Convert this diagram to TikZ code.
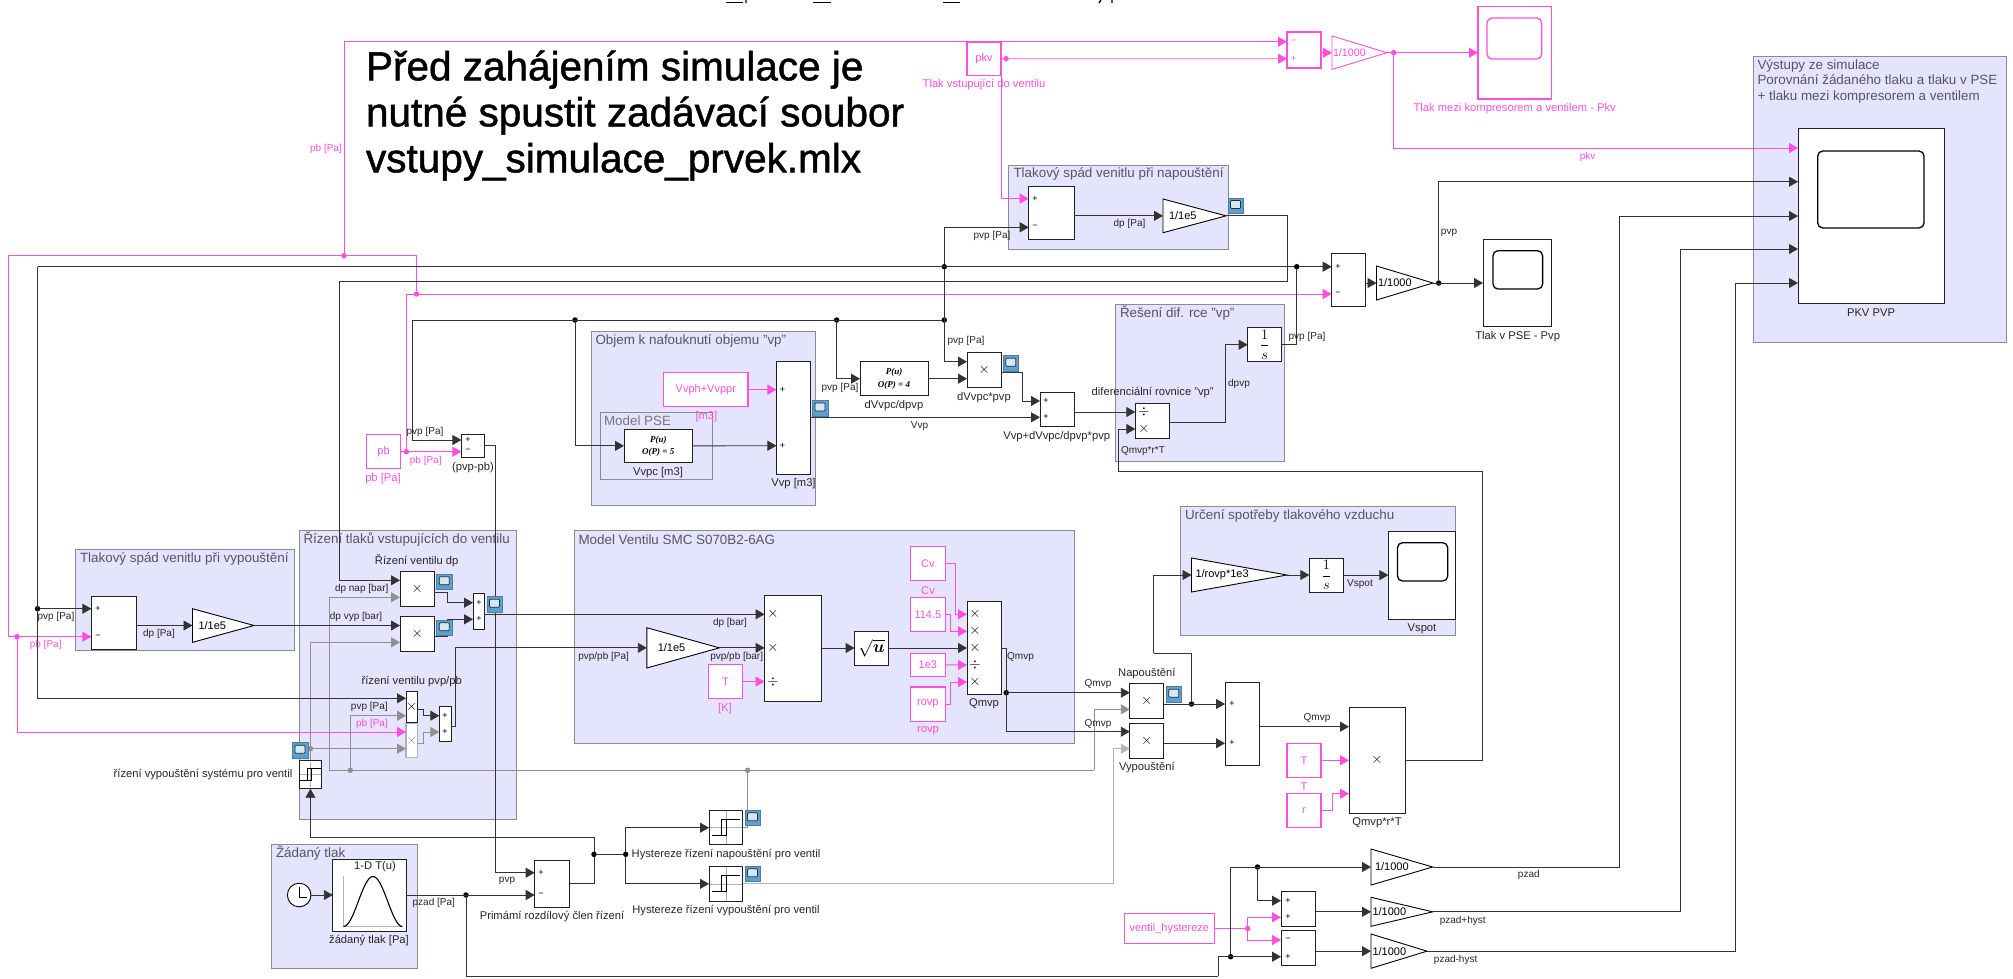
\documentclass[tikz,border=0pt]{standalone}
\usepackage{amsmath}
\usepackage{fontspec}
\setmainfont{Liberation Sans}
\newfontfamily\polyfont{Liberation Serif}
\newfontfamily\notefont[FakeBold=1.2]{Liberation Sans}
\usetikzlibrary{arrows.meta,fit}
\definecolor{pinkC}{HTML}{FF4FDC}
\definecolor{sigC}{HTML}{333333}
\definecolor{blkC}{HTML}{202020}
\definecolor{shadeC}{HTML}{909090}
\definecolor{shadeL}{HTML}{B4B4B4}
\definecolor{subF}{HTML}{E4E4FC}
\definecolor{subD}{HTML}{8A8A92}
\definecolor{ttlC}{HTML}{555562}
\definecolor{iconB}{HTML}{5E9FCB}
\newcommand{\blktext}[1]{\raisebox{\dimexpr.5\depth-.5\height\relax}[0pt][0pt]{#1}}
\newcommand{\polytext}[1]{\blktext{\polyfont\itshape\bfseries\fontsize{9}{12.5}\selectfont\begin{tabular}{@{}c@{}}P(u)\\O(P) = #1\end{tabular}}}

\begin{document}
\begin{tikzpicture}[x=1pt,y=-1pt,>={Triangle[length=9pt,width=10pt]},
   every node/.style={inner sep=0pt,outer sep=0pt,font=\fontsize{10}{12}\selectfont},
   blk/.style={draw=blkC,fill=white,line width=1pt,font=\fontsize{11}{13}\selectfont},
   pblk/.style={draw=pinkC,fill=white,line width=1.1pt,text=pinkC,font=\fontsize{11}{13}\selectfont},
   shblk/.style={draw=shadeC!70,fill=white!92!subF,line width=1.1pt,text=shadeC},
   subsys/.style={draw=subD,fill=subF,line width=1pt},
   screen/.style={draw=black,fill=white,line width=1.3pt,rounded corners=5pt},
   gain/.style={append after command={\pgfextra{\draw[fill=white,line width=.9pt,draw=#1]
      (\tikzlastnode.north west) -- (\tikzlastnode.east) -- (\tikzlastnode.south west) -- cycle;}}},
   gtext/.style={anchor=west,font=\fontsize{11}{13}\selectfont},
   lbl/.style={text=black!85},
   nlbl/.style={text=black!85,font=\fontsize{11.2}{13}\selectfont},
   plbl/.style={text=pinkC},
   pnlbl/.style={text=pinkC,font=\fontsize{11.2}{13}\selectfont},
   ttl/.style={anchor=west,text=ttlC,font=\fontsize{13.4}{16}\selectfont},
   sgn/.style={font=\fontsize{9}{10}\selectfont},
   mlt/.style={font=\fontsize{14.5}{15}\selectfont},
   intfrac/.style={font=\fontsize{15}{17}\selectfont},
   sig/.style={draw=sigC,line width=.9pt},
   pks/.style={draw=pinkC,line width=.9pt},
   shd/.style={draw=shadeC,line width=.9pt},
   dot/.style={circle,minimum size=5.5pt,fill=#1},
   viewer/.style={minimum width=15.5pt,minimum height=15.5pt,draw=iconB!80!black,line width=.5pt,fill=iconB,
      path picture={\draw[draw=black!70!iconB,fill=iconB!25,line width=.7pt,rounded corners=1pt]
        ([shift={(-5,-5)}]path picture bounding box.center) rectangle ([shift={(5,3)}]path picture bounding box.center);}},
   relay/.style={path picture={\path (path picture bounding box.center) coordinate (rc);
      \draw[gray!60,line width=.5pt] (rc) ++(-17*#1,0) -- ++(34*#1,0) (rc) ++(0,-17*#1) -- ++(0,34*#1);
      \draw[black,line width=.9pt] (rc) ++(-14*#1,8*#1) -- ++(10*#1,0) -- ++(0,-16*#1) -- ++(18*#1,0) (rc) ++(#1,-8*#1) -- ++(0,16*#1) -- ++(-5*#1,0);}}]
  \useasboundingbox (0,0) rectangle (2013,978);

  % clipped file name at the top edge
  \foreach \ua/\ub in {726/743,813/831,943/960} \draw[line width=1.6pt] (\ua,2.5) -- (\ub,2.5);
  \draw[line width=1.3pt] (746,0) -- (746,3) (1101,0) -- (1099,3) (1112,0) -- (1112,3);

  % subsystems
  \node[subsys,fit={(1008.5,165)(1228,249.5)}] (sbNap) {};
  \node[subsys,fit={(75.5,549)(294.5,650.5)}] (sbVyp) {};
  \node[subsys,fit={(299,530)(516.5,819.5)}] (sbRiz) {};
  \node[subsys,fit={(591.5,331.5)(815.5,505.5)}] (sbObj) {};
  \node[subsys,fit={(600,412.5)(712.5,479.5)}] (sbPse) {};
  \node[subsys,fit={(574,530)(1074,743.5)}] (sbVen) {};
  \node[subsys,fit={(1115.5,304.5)(1284,461.5)}] (sbRes) {};
  \node[subsys,fit={(1180.5,506.5)(1455.5,635.5)}] (sbUrc) {};
  \node[subsys,fit={(271.5,844.5)(417,968)}] (sbZad) {};
  \node[subsys,fit={(1753,56)(2006,342)}] (sbVys) {};
  \node[ttl] (tNap) at (1013.5,174) {Tlakový spád venitlu při napouštění};
  \node[ttl] (tVyp) at (80,558.5) {Tlakový spád venitlu při vypouštění};
  \node[ttl] (tRiz) at (303.5,539) {Řízení tlaků vstupujících do ventilu};
  \node[ttl] (tObj) at (595.5,341) {Objem k nafouknutí objemu "vp"};
  \node[ttl,text=ttlC!80] (tPse) at (604,421) {Model PSE};
  \node[ttl] (tVen) at (578.5,539.5) {Model Ventilu SMC S070B2-6AG};
  \node[ttl] (tRes) at (1120,313.5) {Řešení dif. rce "vp"};
  \node[ttl] (tUrc) at (1185,515.5) {Určení spotřeby tlakového vzduchu};
  \node[ttl] (tZad) at (276,853.5) {Žádaný tlak};
  \node[ttl,align=left,font=\fontsize{13.4}{15.5}\selectfont] (tVys) at (1757.5,81) {Výstupy ze simulace\\Porovnání žádaného tlaku a tlaku v PSE\\+ tlaku mezi kompresorem a ventilem};
  \node[anchor=north west,align=left,font=\notefont\fontsize{40.5}{46}\selectfont,text=black] (note) at (366,50.5)
    {Před zahájením simulace je\\nutné spustit zadávací soubor\\vstupy\_simulace\_prvek.mlx};

  % blocks, top row
  \node[pblk,fit={(967,42)(1001,75.5)}] (pkv) {\blktext{pkv}};
  \node[pblk,fit={(1287,32)(1321,68)}] (sumK) {};
  \node[gain=pinkC,fit={(1332,36)(1387,69.4)}] (gK) {};
  \node[gtext,text=pinkC,font=\fontsize{10.7}{12}\selectfont] (gKt) at ([xshift=1pt]gK.west) {1/1000};
  \node[pblk,fit={(1478,6.7)(1551.6,99)}] (scK) {};
  \node[screen,draw=pinkC,fit={(1487,18)(1541.7,59)}] (scKs) {};
  \node[blk,fit={(1028.7,186)(1074,239.3)}] (sNap) {};
  \node[gain=black,fit={(1163,199)(1226,232.7)}] (gNap) {};
  \node[gtext] (gNapt) at ([xshift=6pt]gNap.west) {1/1e5};
  \node[blk,fit={(1331.7,253)(1365.7,306.7)}] (sumO) {};
  \node[gain=black,fit={(1376.5,266)(1433,300)}] (gO) {};
  \node[gtext] (gOt) at ([xshift=1.5pt]gO.west) {1/1000};
  \node[blk,fit={(1483,239)(1551.6,326.7)}] (scT) {};
  \node[screen,fit={(1493,250.7)(1542.6,289)}] (scTs) {};
  \node[blk,fit={(1798,128)(1944,303)}] (scV) {};
  \node[screen,fit={(1817.7,151)(1924,228)}] (scVs) {};

  % objem
  \node[pblk,fit={(366.4,434.7)(400.6,468.7)}] (pb) {\blktext{pb}};
  \node[blk,fit={(461.4,434.7)(484.6,457.3)}] (sPb) {};
  \node[pblk,fit={(663.6,372.7)(748,406.7)}] (vvph) {\blktext{Vvph+Vvppr}};
  \node[blk,fit={(624,429)(692.5,462.7)}] (vvpc) {\polytext{5}};
  \node[blk,fit={(776.4,361.7)(810,474)}] (vvp) {};
  \node[blk,fit={(860,361.7)(928,395.7)}] (poly4) {\polytext{4}};
  \node[blk,fit={(967,352.7)(1001.4,387.7)},mlt] (mv) {\blktext{$\times$}};
  \node[blk,fit={(1040,392)(1074,426.7)}] (sV) {};
  \node[blk,fit={(1135.3,403.3)(1169.3,438)}] (md) {};
  \node[blk,fit={(1247.7,327.7)(1281.7,361.7)},intfrac] (intg) {\blktext{$\dfrac{1}{s}$}};

  % rizeni
  \node[blk,fit={(91.4,596.3)(136.4,649)}] (sVyp) {};
  \node[gain=black,fit={(192.5,608.7)(254,642.3)}] (gVyp) {};
  \node[gtext] (gVypt) at ([xshift=6pt]gVyp.west) {1/1e5};
  \node[blk,fit={(400,571.7)(434.3,606.3)},mlt] (m1) {\blktext{$\times$}};
  \node[blk,fit={(400,616.7)(434.3,651.7)},mlt] (m2) {\blktext{$\times$}};
  \node[blk,fit={(473,593.7)(484.7,629)}] (s1) {};
  \node[blk,fit={(406,691.7)(417.3,722.3)},mlt] (m3) {\blktext{$\times$}};
  \node[shblk,fit={(406,723.3)(417.3,757.7)},mlt] (m4) {\blktext{$\times$}};
  \node[blk,fit={(439.3,706)(451,741.3)}] (s2) {};
  \node[blk,relay=.72,fit={(299.2,760)(321.7,788.7)}] (hC) {};

  % model ventilu
  \node[gain=black,fit={(646.8,627.7)(719.3,668)}] (gVen) {};
  \node[gtext] (gVent) at ([xshift=11pt]gVen.west) {1/1e5};
  \node[pblk,fit={(708.6,664.3)(742.4,698.7)}] (cT) {\blktext{T}};
  \node[blk,fit={(764.6,595)(821.8,701)}] (bm) {};
  \node[blk,fit={(854.6,631)(888.4,665)},font=\fontsize{17}{18}\selectfont] (sqr) {\blktext{$\sqrt{\boldsymbol{u}}$}};
  \node[pblk,fit={(910.6,546.7)(945.2,580.7)}] (cCv) {\blktext{Cv}};
  \node[pblk,fit={(910.6,597.3)(945.2,631.3)}] (c114) {\blktext{114.5}};
  \node[pblk,fit={(910.6,653.3)(945.2,676.3)}] (c1e3) {\blktext{1e3}};
  \node[pblk,fit={(910.6,687)(945.2,721.3)}] (cRovp) {\blktext{rovp}};
  \node[blk,fit={(967,601.7)(1001.4,694.3)}] (mQ) {};

  % spotreba a vystupy
  \node[blk,fit={(1129.8,683.7)(1163.8,718.7)},mlt] (mNa) {\blktext{$\times$}};
  \node[blk,fit={(1129.8,723.3)(1163.8,758)},mlt] (mVy) {\blktext{$\times$}};
  \node[blk,fit={(1225,682.7)(1259,765)}] (sQ) {};
  \node[blk,fit={(1349,707.7)(1405,813)},mlt] (qb) {\blktext{$\times$}};
  \node[pblk,fit={(1287,743.3)(1321,777.3)}] (cTq) {\blktext{T}};
  \node[pblk,fit={(1287,793.7)(1321,827.7)}] (cR) {\blktext{r}};
  \node[gain=black,fit={(1191.5,558)(1287,592)}] (gUr) {};
  \node[gtext] (gUrt) at ([xshift=4pt]gUr.west) {1/rovp*1e3};
  \node[blk,fit={(1309.3,558)(1343.7,592.3)},intfrac] (iUr) {\blktext{$\dfrac{1}{s}$}};
  \node[blk,fit={(1388.4,531)(1455.6,619)}] (scS) {};
  \node[screen,fit={(1397.5,542.7)(1447.7,581)}] (scSs) {};
  \node[gain=black,fit={(1371,849)(1432.7,885)}] (gP) {};
  \node[gtext] (gPt) at ([xshift=4pt]gP.west) {1/1000};
  \node[gain=black,fit={(1371,897.3)(1432.7,926.3)}] (gH) {};
  \node[gtext] (gHt) at ([xshift=1.5pt]gH.west) {1/1000};
  \node[gain=black,fit={(1371,934)(1427,968.3)}] (gM) {};
  \node[gtext] (gMt) at ([xshift=1.5pt]gM.west) {1/1000};
  \node[blk,fit={(1281,891.7)(1315.3,926.3)}] (sHp) {};
  \node[blk,fit={(1281,930.7)(1315.3,965.7)}] (sHm) {};
  \node[pblk,fit={(1124.3,913.7)(1214.4,943.3)}] (hys) {\blktext{ventil\_hystereze}};

  % rizeni bottom
  \node[blk,fit={(534.7,860)(569,907.3)}] (sPr) {};
  \node[blk,relay=1,fit={(709,810.7)(742.8,844.7)}] (h1) {};
  \node[blk,relay=1,fit={(709,866.7)(742.8,901)}] (h2) {};
  \node[draw=black,fill=white,circle,line width=.9pt,minimum size=23.6pt,
    path picture={\draw[line width=.8pt] ([shift={(0,-8)}]path picture bounding box.center) -- ([shift={(0,2)}]path picture bounding box.center) -- ([shift={(8,2)}]path picture bounding box.center);}] (clk) at (299.2,895) {};
  \node[blk,fit={(332.8,859)(406,931)}] (lut) {};
  \draw[gray!60,line width=.8pt] (343.5,876) -- (343.5,926.7) -- (402.4,926.7);
  \draw[black,line width=1.1pt] plot[domain=0:1,samples=40] ({343.5+59*\x},{926.5-50*(1-cos(360*\x))/2});

  % junctions
  \foreach \nm/\px/\py/\cc in {jPbT/344/255.7/pinkC,jPbB/416.5/294/pinkC,jPb/406.4/451.7/pinkC,jPbV/17/636.7/pinkC,
      jPkv/1006/58.7/pinkC,jKo/1393.6/52.7/pinkC,jHys/1247.6/928.5/pinkC,
      jOut/1296.7/266.7/black,jNap/944.3/266.7/black,jVv/944.3/320/black,jA/575/320/black,jB/836.7/320/black,
      jDv/37.5/608.7/black,jQ/1006.3/692.7/black,jNa/1191.5/704/black,jPr/594/854.3/black,jPr2/625.7/854.3/black,
      jZ/466/895/black,jG/1230.6/956.7/black,jG2/1257.5/867/black,jO/1438.7/283/black,
      jS/747.6/770.3/shadeC,jS2/350.3/770.3/shadeC,jH/310.4/748.7/shadeC}
    \node[dot=\cc] (\nm) at (\px,\py) {};

  % ports and bends
  \foreach \nm/\px/\py in {pSkM/1287/41.7,pSkP/1287/58.7,pNapP/1028.7/198.6,pNapM/1028.7/227.3,pVyK/1798/148,pVy2/1798/181.7,
      pVy3/1798/216,pVy4/1798/249,pVy5/1798/283,pOp/1331.7/266.7,pOm/1331.7/294,bPbW/8/255.7,pVm/91.4/636.7,pVp/91.4/608.7,
      pM1a/400/580.3,pM1b/400/597.3,pM2a/400/625.5,pM2b/400/642.3,pM3a/406/698.3,pM3b/406/715.7,pM4a/406/732,pM4b/406/748.7,
      oM1/434.3/592,oM2/434.3/636.7,oM3/417.3/709,oM4/417.3/743,pS1a/473/602.7,pS1b/473/619.3,pS2a/439.3/715.7,pS2b/439.3/732,
      oS2/451/726.7,pBmA/764.6/614.3,pBmC/764.6/681.5,oS1/484.7/614.3,pPbP/461.4/440,pPbM/461.4/451.7,bVvW/412/320,oPb/484.6/445.3,
      pPrA/534.7/872.7,pPrB/534.7/895,oPr/569/883.7,pVv1/776.4/389.7,pVv2/776.4/445.7,oVv/810/417.3,pSvA/1040/401,pSvB/1040/417.3,
      pMvA/967/361.7,pMvB/967/378.7,oMv/1001.4/372.3,pMdA/1135.3/412,pMdB/1135.3/429,oMd/1169.3/422.7,
      pQ1/967/614.3,pQ2/967/631.3,pQ3/967/648,pQ4/967/665,pQ5/967/682,oQ/1001.4/648,
      pNaA/1129.8/692.7,pNaB/1129.8/709.3,pVyA/1129.8/731.7,pVyB/1129.8/748.7,pSqA/1225/704,pSqB/1225/743.3,oQs/1259/726.7,
      pQbA/1349/726.7,pQbC/1349/793.7,bUr/1153.5/653.3,bFbA/1482.5/471.7,bFbB/1118.3/471.7,bRetA/1287/281.7,bRetB/339/281.7,
      bZ/1218.4/976,pHpA/1281/900.7,pHpB/1281/917.3,pHmA/1281/940,pHmB/1281/956.7,bGa/329.3/770.3,bGb/1094/770.3}
    \coordinate (\nm) at (\px,\py);

  % pink wires
  \draw[pks,->] (jPbT) |- (pSkM);
  \draw[pks,->] (pkv.east) -- (pSkP);
  \draw[pks,->] (pkv.east) -- ++(0,0) |- (pNapP);
  \draw[pks,->] (gK.west -| sumK.east) -- (gK.west);
  \draw[pks,->] (gK.east) -- (gK.east -| scK.west);
  \draw[pks,->] (jKo) |- (pVyK);
  \draw[pks,->] (pb.east) -- (pPbM);
  \draw[pks,->] (jPb) |- (pOm);
  \draw[pks] (jPbB) |- (bPbW);
  \draw[pks,->] (bPbW) |- (pVm);
  \draw[pks,->] (jPbV) |- (pM4a);
  \draw[pks,->] (vvph.east) -- (pVv1);
  \draw[pks,->] (cT.east) -- (pBmC);
  \draw[pks,->] (cCv.east) -- ++(10.4,0) |- (pQ1);
  \draw[pks,->] (c114.east) -- ++(5,0) |- (pQ2);
  \draw[pks,->] (c1e3.east) -- (pQ4);
  \draw[pks,->] (cRovp.east) -- ++(5,0) |- (pQ5);
  \draw[pks,->] (cTq.east) -- (cTq.east -| qb.west);
  \draw[pks,->] (cR.east) -- ++(11,0) |- (pQbC);
  \draw[pks] (hys.east) -- (jHys);
  \draw[pks,->] (jHys) |- (pHpB);
  \draw[pks,->] (jHys) |- (pHmA);

  % shaded wires
  \draw[shd] (h1.east) -| (jS);
  \draw[shd] (bGb) -- (bGa);
  \draw[shd,->] (bGa) |- (pM1b);
  \draw[shd,->] (bGb) |- (pNaB);
  \draw[shd,->] (jS2) |- (pM3b);
  \draw[shd,draw=shadeL,->] (h2.east) -- ++(370.2,0) |- (pVyB);
  \draw[shd,->] (hC.north) |- (pM2b);
  \draw[shd,->] (jH) -- (pM4b);
  \draw[shd,->] (oM4) -- ++(6,0) |- (pS2b);

  % signal wires
  \draw[sig,->] (jOut) -- (pOp);
  \draw[sig] (intg.east) -| (jOut);
  \draw[sig] (jOut) -- (jOut -| jDv);
  \draw[sig,->] (jOut -| jDv) |- (pM3a);
  \draw[sig,->] (jDv) -- (pVp);
  \draw[sig,->] (jNap) |- (pNapM);
  \draw[sig,->] (jNap) |- (pMvA);
  \draw[sig] (jVv) -- (bVvW);
  \draw[sig,->] (bVvW) |- (pPbP);
  \draw[sig,->] (jA) |- (vvpc.west);
  \draw[sig,->] (jB) |- (poly4.west);
  \draw[sig,->] (gNap.west -| sNap.east) -- (gNap.west);
  \draw[sig] (gNap.east) -| (bRetA) -- (bRetB);
  \draw[sig,->] (bRetB) |- (pM1a);
  \draw[sig,->] (gVyp.west -| sVyp.east) -- (gVyp.west);
  \draw[sig,->] (gVyp.east) -- (pM2a);
  \draw[sig,->] (oM1) -- ++(13,0) |- (pS1a);
  \draw[sig,->] (oM2) -- ++(13,0) |- (pS1b);
  \draw[sig,->] (oS1) -- (pBmA);
  \draw[sig,->] (oM3) -- ++(6,0) |- (pS2a);
  \draw[sig,->] (oS2) -- ++(4.7,0) |- (gVen.west);
  \draw[sig,->] (gVen.east) -- (gVen.east -| bm.west);
  \draw[sig,->] (bm.east) -- (sqr.west);
  \draw[sig,->] (sqr.east) -- (pQ3);
  \draw[sig,->] (oQ) -- ++(4.9,0) |- (pVyA);
  \draw[sig,->] (jQ) -- (pNaA);
  \draw[sig,->] (mNa.east |- pSqA) -- (pSqA);
  \draw[sig] (jNa) |- (bUr);
  \draw[sig,->] (bUr) |- (gUr.west);
  \draw[sig,->] (mVy.east |- pSqB) -- (pSqB);
  \draw[sig,->] (oQs) -- (pQbA);
  \draw[sig] (qb.east) -| (bFbA) -- (bFbB);
  \draw[sig,->] (bFbB) |- (pMdB);
  \draw[sig,->] (gUr.east) -- (gUr.east -| iUr.west);
  \draw[sig,->] (iUr.east) -- (iUr.east -| scS.west);
  \draw[sig,->] (vvpc.east) -- (pVv2);
  \draw[sig,->] (poly4.east) -- (pMvB);
  \draw[sig,->] (oMv) -- ++(21.4,0) |- (pSvA);
  \draw[sig,->] (oVv) -- (pSvB);
  \draw[sig,->] (sV.east |- pMdA) -- (pMdA);
  \draw[sig,->] (oMd) -- ++(55.7,0) |- (intg.west);
  \draw[sig,->] (oPb) -- ++(10.7,0) |- (pPrA);
  \draw[sig] (oPr) -| (jPr);
  \draw[sig,->] (jPr) -- ++(0,-16.6) -| (hC.south);
  \draw[sig] (jPr) -- (jPr2);
  \draw[sig,->] (jPr2) |- (h1.west);
  \draw[sig,->] (jPr2) |- (h2.west);
  \draw[sig,->] (clk.east) -- (lut.west);
  \draw[sig,->] (lut.east) -- (pPrB);
  \draw[sig] (jZ) |- (bZ);
  \draw[sig,->] (bZ) |- (pHmB);
  \draw[sig,->] (jG) |- (gP.west);
  \draw[sig,->] (jG2) |- (pHpA);
  \draw[sig,->] (gH.west -| sHp.east) -- (gH.west);
  \draw[sig,->] (gM.west -| sHm.east) -- (gM.west);
  \draw[sig,->] (gP.east) -- ++(186.5,0) |- (pVy3);
  \draw[sig,->] (gH.east) -- ++(248,0) |- (pVy4);
  \draw[sig,->] (gM.east) -- ++(308,0) |- (pVy5);
  \draw[sig,->] (gO.west -| sumO.east) -- (gO.west);
  \draw[sig,->] (gO.east) -- (gO.east -| scT.west);
  \draw[sig,->] (jO) |- (pVy2);

  % port signs
  \foreach \sx/\sy/\ss [count=\i] in {1035/198.6/+,1035/227.3/−,98/608.7/+,98/636.7/−,468/440/+,468/451/−,
      479/602.7/+,479/619.3/+,445/715.7/+,445/732/+,782.4/389.7/+,782.4/445.7/+,1046/401/+,1046/417.3/+,
      1338/266.7/+,1338/294/−,541/872.7/+,541/895/−,1232/704/+,1232/743.3/+,1288/900.7/+,1288/917.3/+,1288/940/−,1288/956.7/+}
    \node[sgn] (sg\i) at (\sx,\sy) {\ss};
  \node[sgn,text=pinkC] (sgKm) at (1293.6,42) {−};
  \node[sgn,text=pinkC] (sgKp) at (1293.6,58.7) {+};
  \foreach \sx/\sy/\ss [count=\i] in {773/614.3/\times,773/648/\times,773/681.5/\div,975/614.3/\times,975/631.3/\times,
      975/648/\times,975/665/\div,975/682/\times,1144/412/\div,1144/429/\times}
    \node[mlt] (mk\i) at (\sx,\sy) {$\ss$};

  % viewers
  \foreach \nm/\px/\py in {icNap/1235.5/205.5,icM1/444.3/581.7,icM2/444.3/627.7,icS1/494.5/604.2,icC/300/750.3,icV/820/408,
      icMv/1010.8/363.2,icH1/752.5/817.8,icH2/752.5/873.8,icNa/1173.8/694.2}
    \node[viewer] (\nm) at (\px,\py) {};

  % signal labels
  \foreach \nm/\px/\py/\tx in {lA/992/236/pvp [Pa],lB/1129.5/224/dp [Pa],lC/1449/233/pvp,
      lF/56/617.3/pvp [Pa],lG/159/633.7/dp [Pa],lH/425/432.3/pvp [Pa],
      lK/361.7/589/dp nap [bar],lL/356/617.3/dp vyp [bar],
      lN/369.3/707.3/pvp [Pa],lR/433.8/903.3/pzad [Pa],lS/507/881.3/pvp,
      lY/919.6/426/Vvp,la/840/387.7/pvp [Pa],lc/966/341.3/pvp [Pa],
      lg/1239/384/dpvp,lh/1307/336.7/pvp [Pa],li/603.6/657.3/pvp{/}pb [Pa],lj/736.7/657.3/pvp{/}pb [bar],
      lk/730/623.3/dp [bar],ll/1020.5/657.3/Qmvp,ln/1098/684.3/Qmvp,lo/1098/724/Qmvp,
      lr/1317/718.3/Qmvp,lt/1360/584/Vspot,
      lv/1528.8/875/pzad,lw/1462.7/920.7/pzad+hyst,lx/1455.6/959.7/pzad-hyst,lf/1143/450.7/Qmvp*r*T}
    \node[lbl] (\nm) at (\px,\py) {\tx};

  % block names
  \foreach \nm/\px/\py/\tx in {lD/1517.7/336.7/Tlak v PSE - Pvp,lE/1871/312.7/PKV PVP,lI/473/467.3/(pvp-pb),
      lJ/416.7/561/Řízení ventilu dp,lM/411.7/681.3/řízení ventilu pvp{/}pb,
      lO/203/774.3/řízení vypouštění systému pro ventil,lP/375/866.7/1-D T(u),lQ/369/940.7/žádaný tlak [Pa],
      lT/552/917/Primámí rozdílový člen řízení,
      lU/726/854.3/Hystereze řízení napouštění pro ventil,lV/726/910.7/Hystereze řízení vypouštění pro ventil,
      lW/658/473/Vvpc [m3],lX/793.5/484/Vvp [m3],lZ/894/405.3/dVvpc{/}dpvp,
      lb/984/397.3/dVvpc*pvp,ld/1056.7/436.7/Vvp+dVvpc{/}dpvp*pvp,le/1152.7/392.7/diferenciální rovnice "vp",
      lm/984/704/Qmvp,lp/1146.8/673.7/Napouštění,
      lq/1146.8/768/Vypouštění,ls/1377/822.7/Qmvp*r*T,lu/1422/629/Vspot}
    \node[nlbl] (\nm) at (\px,\py) {\tx};

  % pink labels
  \foreach \nm/\px/\py/\tx in {pd/1587.6/157/pkv,pe/326/149/pb [Pa],pg/425.7/460.7/pb [Pa],ph/45.7/645.3/pb [Pa],pi/372/724/pb [Pa]}
    \node[plbl] (\nm) at (\px,\py) {\tx};
  \foreach \nm/\px/\py/\tx in {pa/984/85/Tlak vstupující do ventilu,pc/1514.7/109/Tlak mezi kompresorem a ventilem - Pkv,
      pf/383/479/pb [Pa],pj/706.4/416.7/[m3],pk/725/709/[K],pl/928/590.3/Cv,pm/928/731/rovp,pn/1304/786.7/T}
    \node[pnlbl] (\nm) at (\px,\py) {\tx};
\end{tikzpicture}
\end{document}
